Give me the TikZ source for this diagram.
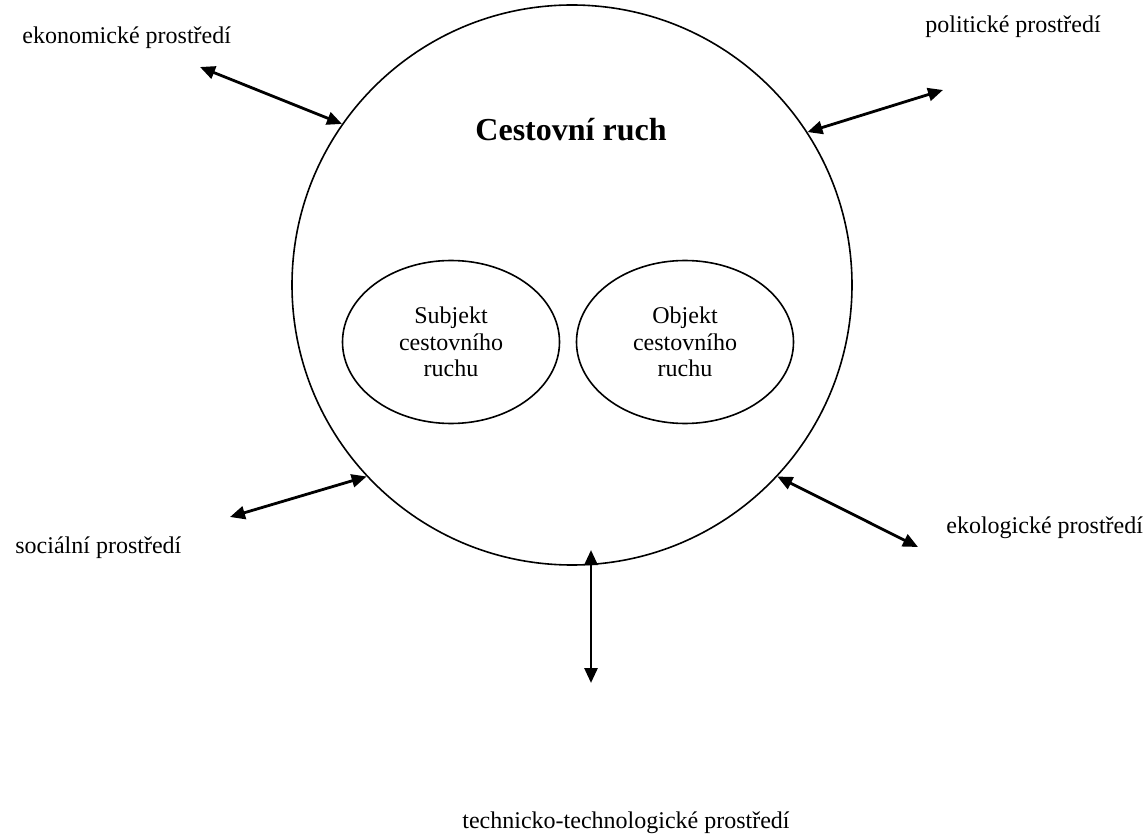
\documentclass[tikz,border=0pt]{standalone}
\usepackage{fontspec}
\setmainfont{Liberation Serif}
\usetikzlibrary{arrows.meta, positioning, shapes.geometric}

\begin{document}
\begin{tikzpicture}[
    x=0.5pt, y=-0.5pt,
    every node/.style={font=\fontsize{12}{13.3}\selectfont, align=center},
    ring/.style={draw, circle, line width=0.8pt, minimum size=280pt, inner sep=0pt},
    part/.style={draw, ellipse, line width=0.8pt, minimum width=108.5pt, minimum height=81.5pt, inner sep=0pt},
    okoli/.style={anchor=west, inner sep=0pt},
    arrow/.style={{Triangle[length=7.5pt,width=6.5pt]}-{Triangle[length=7.5pt,width=6.5pt]}, line width=1.4pt}
]
\useasboundingbox (0,0) rectangle (1147,834);

\node[ring] (ruch) at (572,285) {};
\node[font=\fontsize{16}{19}\selectfont\bfseries] (nazev) at (571,130) {Cestovní ruch};
\node[part] (subjekt) at (451,342) {Subjekt\\cestovního\\ruchu};
\node[part] (objekt) at (685,342) {Objekt\\cestovního\\ruchu};

\node[okoli] (ekon) at (22,38) {ekonomické prostředí};
\node[okoli] (polit) at (925,27) {politické prostředí};
\node[okoli] (soc) at (15,548) {sociální prostředí};
\node[okoli] (ekol) at (946,528) {ekologické prostředí};
\node[okoli] (tech) at (462,823) {technicko-technologické prostředí};

\coordinate (ekon-end) at (200,67);
\coordinate (polit-end) at (943,90);
\coordinate (soc-end) at (230,517);
\coordinate (ekol-end) at (918,547);
\coordinate (tech-top) at (591,550);
\coordinate (tech-end) at (591,683);

\draw[arrow] (ekon-end) -- (ruch.145);
\draw[arrow] (ruch.33) -- (polit-end);
\draw[arrow] (soc-end) -- (ruch.223);
\draw[arrow] (ruch.317) -- (ekol-end);
\draw[arrow] (tech-top) -- (tech-end);

\end{tikzpicture}
\end{document}
